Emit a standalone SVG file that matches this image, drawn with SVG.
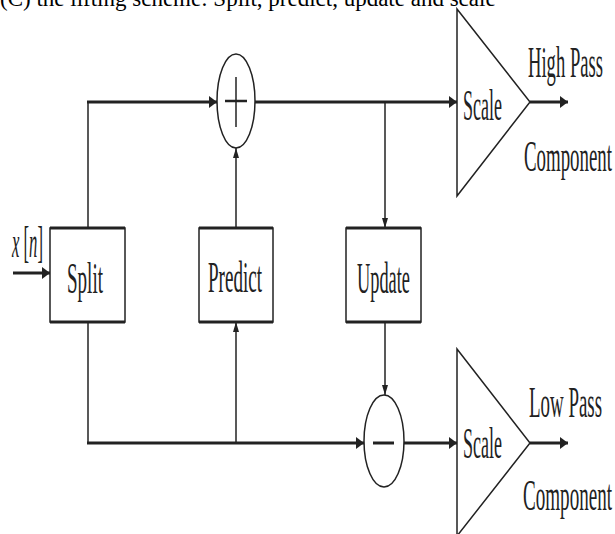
<svg xmlns="http://www.w3.org/2000/svg" width="615" height="534" viewBox="0 0 615 534">
<style>
.bg{fill:#fff}
.thin{stroke:#222;stroke-width:1.5;fill:none}
.thick{stroke:#222;stroke-width:3;fill:none}
.box{fill:#fff;stroke:#222;stroke-width:1.5}
.edge{stroke:#222;stroke-width:3}
.lbl{font-family:"Liberation Serif","Times New Roman",serif;font-size:44px;fill:#222}
.title{font-family:"Liberation Serif","Times New Roman",serif;font-size:23px;fill:#000}
</style>
<defs>
<marker id="ah" markerUnits="userSpaceOnUse" markerWidth="8" markerHeight="12" refX="8" refY="6" orient="auto"><path d="M0,0 L8,6 L0,12 Z" fill="#222"/></marker>
<marker id="av" markerUnits="userSpaceOnUse" markerWidth="10" markerHeight="6" refX="10" refY="3" orient="auto"><path d="M0,0 L10,3 L0,6 Z" fill="#222"/></marker>
</defs>
<rect class="bg" x="0" y="0" width="615" height="534"/>
<text class="title" x="0" y="6">(C) the lifting scheme: Split, predict, update and scale</text>
<g id="connectors">
<line class="thick" x1="13" y1="273" x2="50" y2="273" marker-end="url(#ah)"/>
<line class="thin" x1="88" y1="228" x2="88" y2="102"/>
<line class="thick" x1="87" y1="102" x2="217" y2="102" marker-end="url(#ah)"/>
<line class="thick" x1="255" y1="102" x2="457" y2="102" marker-end="url(#ah)"/>
<line class="thin" x1="385" y1="102" x2="385" y2="228" marker-end="url(#av)"/>
<line class="thin" x1="236" y1="228" x2="236" y2="148" marker-end="url(#av)"/>
<line class="thin" x1="88" y1="322" x2="88" y2="443"/>
<line class="thick" x1="87" y1="443" x2="364" y2="443" marker-end="url(#ah)"/>
<line class="thin" x1="236" y1="443" x2="236" y2="322" marker-end="url(#av)"/>
<line class="thin" x1="385" y1="322" x2="385" y2="395" marker-end="url(#av)"/>
<line class="thick" x1="404" y1="443" x2="457" y2="443" marker-end="url(#ah)"/>
<line class="thick" x1="530" y1="102" x2="568" y2="102" marker-end="url(#ah)"/>
<line class="thick" x1="530" y1="443" x2="568" y2="443" marker-end="url(#ah)"/>
</g>
<g id="input">
<text class="lbl" x="12" y="257" textLength="31" lengthAdjust="spacingAndGlyphs"><tspan font-style="italic">x</tspan> [<tspan font-style="italic">n</tspan>]</text>
</g>
<g id="split">
<rect class="box" x="50" y="228" width="75" height="94"/>
<line class="edge" x1="50" y1="228" x2="125" y2="228"/>
<line class="edge" x1="50" y1="322" x2="125" y2="322"/>
<text class="lbl" x="67" y="293" textLength="36" lengthAdjust="spacingAndGlyphs">Split</text>
</g>
<g id="predict">
<rect class="box" x="199" y="228" width="74" height="94"/>
<line class="edge" x1="199" y1="228" x2="273" y2="228"/>
<line class="edge" x1="199" y1="322" x2="273" y2="322"/>
<text class="lbl" x="208" y="292" textLength="54" lengthAdjust="spacingAndGlyphs">Predict</text>
</g>
<g id="update">
<rect class="box" x="346" y="228" width="75" height="94"/>
<line class="edge" x1="346" y1="228" x2="421" y2="228"/>
<line class="edge" x1="346" y1="322" x2="421" y2="322"/>
<text class="lbl" x="357" y="293" textLength="53" lengthAdjust="spacingAndGlyphs">Update</text>
</g>
<g id="plus">
<ellipse class="box" cx="236" cy="101" rx="19" ry="47"/>
<line class="edge" x1="225" y1="101" x2="247" y2="101" style="stroke-width:2.5"/>
<line class="thin" x1="236" y1="77" x2="236" y2="127"/>
</g>
<g id="minus">
<ellipse class="box" cx="384" cy="441" rx="20" ry="46"/>
<line class="edge" x1="373" y1="443" x2="394" y2="443"/>
</g>
<g id="scale-high">
<polygon class="box" points="457,9 530,102 457,196"/>
<text class="lbl" x="463" y="120" textLength="39" lengthAdjust="spacingAndGlyphs">Scale</text>
</g>
<g id="scale-low">
<polygon class="box" points="457,349 530,443 457,536"/>
<text class="lbl" x="463" y="458" textLength="39" lengthAdjust="spacingAndGlyphs">Scale</text>
</g>
<g id="high-label">
<text class="lbl" x="528" y="77" textLength="75" lengthAdjust="spacingAndGlyphs">High Pass</text>
<text class="lbl" x="524" y="171" textLength="88" lengthAdjust="spacingAndGlyphs">Component</text>
</g>
<g id="low-label">
<text class="lbl" x="529" y="417" textLength="73" lengthAdjust="spacingAndGlyphs">Low Pass</text>
<text class="lbl" x="523" y="510" textLength="89" lengthAdjust="spacingAndGlyphs">Component</text>
</g>
</svg>
